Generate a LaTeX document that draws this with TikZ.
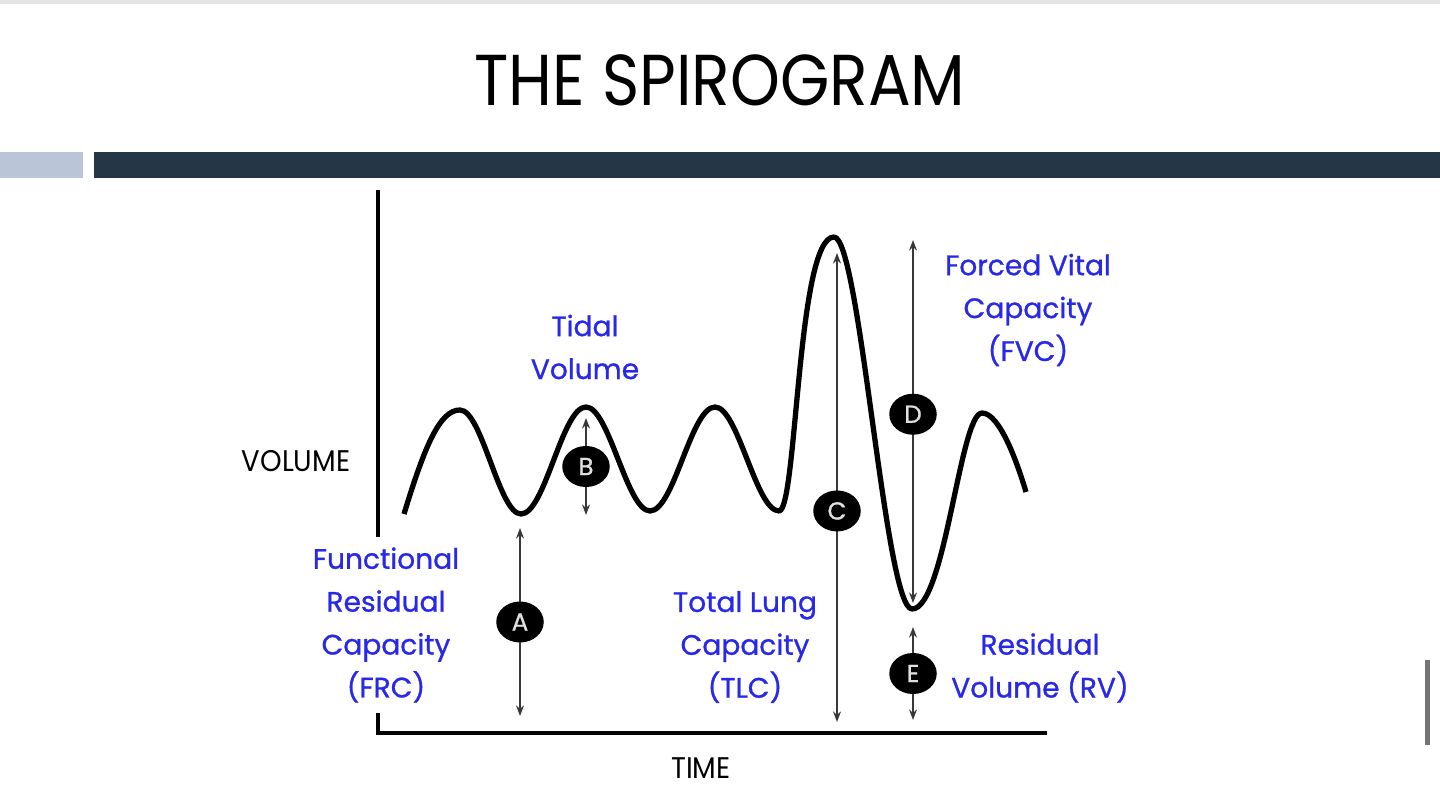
\documentclass[tikz,border=0pt]{standalone}
\usepackage{fontspec}
\setmainfont{Poppins}
\newfontfamily\calloutfont[FakeBold=0.9]{Poppins}
\usetikzlibrary{arrows.meta,shapes.geometric}
\definecolor{labelblue}{RGB}{40,40,232}
\definecolor{bardark}{RGB}{37,55,70}
\definecolor{barlight}{RGB}{186,198,215}

\begin{document}
\begin{tikzpicture}[
        x=0.02cm, y=-0.02cm,
        axis/.style={line width=2.2pt, black},
        trace/.style={line width=3pt, black, line join=round},
        meas/.style={{Stealth[length=6pt,width=4.5pt]}-{Stealth[length=6pt,width=4.5pt]}, line width=1.6pt, black!78},
        tag/.style={ellipse, fill=black, minimum width=0.95cm, minimum height=0.82cm, inner sep=0pt, text=white!88!black, font=\calloutfont\fontsize{14}{14}\selectfont},
        callout/.style={text=labelblue, align=center, font=\calloutfont\fontsize{16}{24.4}\selectfont},
        axistext/.style={font=\fontsize{17}{17}\selectfont}
    ]
        \useasboundingbox (0,0) rectangle (1440,803);

        % Header
        \fill[black!10] (0,0) rectangle (1440,4);
        \node[font=\fontsize{41}{41}\selectfont] (title) at (720,80) {\scalebox{0.88}[1]{THE SPIROGRAM}};
        \fill[barlight] (0,152) rectangle (83,178);
        \fill[bardark] (94,152) rectangle (1440,178);
        \fill[black!55] (1425,660) rectangle (1430,745);

        % Axes
        \coordinate (ytop) at (378,190);
        \coordinate (origin) at (378,733);
        \coordinate (xend) at (1047,733);
        \draw[axis] (ytop) -- (origin) -- (xend);
        \node[axistext] (volume) at (296,461) {\scalebox{0.92}[1]{VOLUME}};
        \node[axistext] (time) at (701,768) {\scalebox{0.92}[1]{TIME}};

        % Spirogram trace
        \draw[trace] (404,514) .. controls (425,445) and (440,410) .. (460,410)
            .. controls (482,410) and (499,514) .. (521,514)
            .. controls (545,514) and (562,407) .. (586,407)
            .. controls (609,407) and (627,511) .. (650,511)
            .. controls (674,511) and (691,407) .. (715,407)
            .. controls (738,407) and (756,511) .. (779,511)
            .. controls (797,511) and (797,237) .. (834,237)
            .. controls (860,237) and (885,609) .. (912,609)
            .. controls (945,609) and (960,413) .. (982,413)
            .. controls (1000,413) and (1018,465) .. (1026,492);

        % Measurements
        \coordinate (atop) at (520,528);
        \coordinate (abot) at (520,716);
        \coordinate (btop) at (586,418);
        \coordinate (bbot) at (586,515);
        \coordinate (ctop) at (837,253);
        \coordinate (cbot) at (837,722);
        \coordinate (dtop) at (913,240);
        \coordinate (dbot) at (913,603);
        \coordinate (etop) at (913,627);
        \coordinate (ebot) at (913,720);
        \draw[meas] (atop) -- node[tag] (a) {A} (abot);
        \draw[meas] (btop) -- node[tag] (b) {B} (bbot);
        \draw[meas] (ctop) -- node[tag, pos=0.55] (c) {C} (cbot);
        \draw[meas] (dtop) -- node[tag, pos=0.48] (d) {D} (dbot);
        \draw[meas] (etop) -- node[tag] (e) {E} (ebot);

        % Labels
        \node[callout, fill=white, inner xsep=1pt, inner ysep=6pt] (frc) at (386,625) {Functional\\Residual\\Capacity\\(FRC)};
        \node[callout] (tidal) at (585,347) {Tidal\\Volume};
        \node[callout] (tlc) at (745,647) {Total Lung\\Capacity\\(TLC)};
        \node[callout] (fvc) at (1028,310) {Forced Vital\\Capacity\\(FVC)};
        \node[callout] (rv) at (1040,668) {Residual\\Volume (RV)};
    \end{tikzpicture}
\end{document}
